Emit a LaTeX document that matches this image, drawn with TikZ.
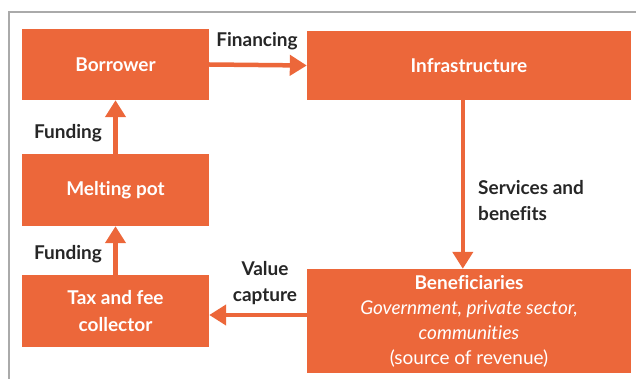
\documentclass[tikz,border=0pt]{standalone}
\usepackage{fontspec}
\setmainfont{Lato}[Ligatures=NoCommon]
\usetikzlibrary{calc,arrows.meta}

\definecolor{boxorange}{RGB}{236,103,58}
\definecolor{framegray}{RGB}{170,170,170}

\tikzset{
    box/.style={fill=boxorange, text=white, font=\fontsize{19}{20}\selectfont\bfseries, inner sep=0pt, align=center},
    flow/.style={draw=boxorange, line width=4.5pt, -{Triangle[width=20pt,length=17pt]}},
    lbl/.style={text=black!85, font=\fontsize{19}{26}\selectfont\bfseries, inner sep=0pt}
}

\begin{document}
\begin{tikzpicture}[x=1pt,y=-1pt]
            \useasboundingbox (0,0) rectangle (636,379);
            \draw [framegray, line width=1.5pt] (9,379) -- (9,12) -- (636,12);

            \node (B) at (115.5,64.5) [box, minimum width=187pt, minimum height=71pt] {Borrower};
            \node (I) at (469,65.5) [box, minimum width=324pt, minimum height=69pt] {Infrastructure};
            \node (M) at (115.5,190) [box, minimum width=187pt, minimum height=72pt] {Melting pot};
            \node (T) at (115.5,311) [box, minimum width=187pt, minimum height=72pt, font=\fontsize{19}{27}\selectfont\bfseries] {Tax and fee\\collector};
            \node (R) at (469,321) [box, minimum width=324pt, minimum height=104pt, font=\fontsize{19}{25}\selectfont] {\textbf{Beneficiaries}\\\textit{Government, private sector,}\\\textit{communities}\\(source of revenue)};

            \draw [flow] (B.east) -- (I.west);
            \draw [flow] (M.north) -- (B.south);
            \draw [flow] (T.north) -- (M.south);
            \draw [flow] ($(I.south west) + (156,0)$) -- ($(R.north west) + (156,0)$);
            \draw [flow] ($(R.west) + (0,-6)$) -- ($(T.east) + (0,4)$);

                \node (fin) at (257,41) [lbl] {Financing};
                \node (fund1) at (68,133) [lbl] {Funding};
                \node (fund2) at (68,254) [lbl] {Funding};
                \node (serv) at (478,201) [lbl, anchor=west, align=left] {Services and\\benefits};
                \node (val) at (265,283) [lbl, align=center] {Value\\capture};

        \end{tikzpicture}
\end{document}
